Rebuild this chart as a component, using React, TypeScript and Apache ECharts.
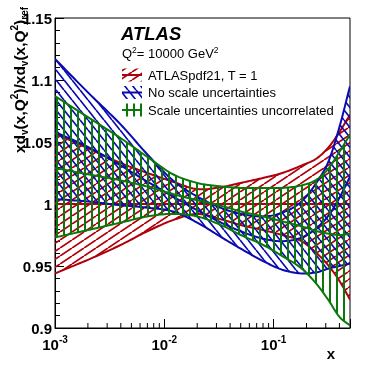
import React, { useEffect, useRef } from "react";
import * as echarts from "echarts";

// ---- data ----
const xValues = [0.001, 0.002, 0.004, 0.007, 0.012, 0.02, 0.035, 0.05, 0.08, 0.12, 0.18, 0.25, 0.32, 0.4, 0.5];

const redUpper = [1.057, 1.045, 1.033, 1.025, 1.018, 1.012, 1.014, 1.017, 1.021, 1.025, 1.031, 1.037, 1.046, 1.058, 1.072];
const redCentral = [1, 1, 1, 1, 1, 1, 1, 1, 1, 1, 1, 1, 1, 1, 1];
const redLower = [0.944, 0.955, 0.967, 0.978, 0.987, 0.992, 0.987, 0.983, 0.979, 0.975, 0.97, 0.96, 0.95, 0.938, 0.923];

const blueUpper = [1.117, 1.09, 1.064, 1.04, 1.019, 1.006, 0.996, 0.992, 0.99, 0.993, 1.002, 1.018, 1.035, 1.062, 1.095];
const blueCentral = [1.058, 1.046, 1.031, 1.018, 1.006, 0.995, 0.984, 0.978, 0.972, 0.97, 0.973, 0.981, 0.991, 1.005, 1.022];
const blueLower = [1.004, 1.002, 0.999, 0.997, 0.994, 0.985, 0.972, 0.964, 0.954, 0.947, 0.944, 0.945, 0.948, 0.95, 0.952];

const greenUpper = [1.087, 1.07, 1.053, 1.038, 1.024, 1.017, 1.014, 1.013, 1.013, 1.013, 1.015, 1.02, 1.029, 1.042, 1.056];
const greenCentral = [1.029, 1.024, 1.019, 1.014, 1.008, 1.003, 0.998, 0.994, 0.99, 0.986, 0.982, 0.978, 0.976, 0.975, 0.976];
const greenLower = [0.973, 0.979, 0.985, 0.99, 0.992, 0.99, 0.982, 0.975, 0.967, 0.958, 0.948, 0.935, 0.922, 0.909, 0.902];

const xMinorTicks = [0.002, 0.003, 0.004, 0.005, 0.006, 0.007, 0.008, 0.009, 0.02, 0.03, 0.04, 0.05, 0.06, 0.07, 0.08, 0.09, 0.2, 0.3, 0.4];

const legendLabels = ["ATLASpdf21, T = 1", "No scale uncertainties", "Scale uncertainties uncorrelated"];

const RED = "#b0000c";
const BLUE = "#0a0ab0";
const GREEN = "#0b780b";
const FONT = "'Liberation Sans', Arial, Helvetica, sans-serif";

function hatch(color: string, w: number, h: number, dir: "up" | "down" | "vert", lw: number) {
  const c = document.createElement("canvas");
  c.width = w;
  c.height = h;
  const ctx = c.getContext("2d")!;
  if (dir === "vert") {
    ctx.fillStyle = color;
    ctx.fillRect(0, 0, lw, h);
  } else {
    ctx.strokeStyle = color;
    ctx.lineWidth = lw;
    ctx.beginPath();
    for (let k = -1; k <= 1; k++) {
      if (dir === "up") {
        ctx.moveTo(k * w, h);
        ctx.lineTo(k * w + w, 0);
      } else {
        ctx.moveTo(k * w, 0);
        ctx.lineTo(k * w + w, h);
      }
    }
    ctx.stroke();
  }
  return { image: c, repeat: "repeat", imageWidth: w, imageHeight: h } as any;
}

// cubic Hermite rendering of pixel points (x monotone) for a smooth curve
function smoothPts(P: number[][]): number[][] {
  const n = P.length;
  const m: number[] = [];
  for (let i = 0; i < n; i++) {
    if (i === 0) m.push((P[1][1] - P[0][1]) / (P[1][0] - P[0][0]));
    else if (i === n - 1) m.push((P[n - 1][1] - P[n - 2][1]) / (P[n - 1][0] - P[n - 2][0]));
    else {
      const s0 = (P[i][1] - P[i - 1][1]) / (P[i][0] - P[i - 1][0]);
      const s1 = (P[i + 1][1] - P[i][1]) / (P[i + 1][0] - P[i][0]);
      m.push((s0 + s1) / 2);
    }
  }
  const out: number[][] = [];
  const S = 12;
  for (let i = 0; i < n - 1; i++) {
    const h = P[i + 1][0] - P[i][0];
    for (let k = 0; k < S; k++) {
      const t = k / S;
      const t2 = t * t, t3 = t2 * t;
      const h00 = 2 * t3 - 3 * t2 + 1, h10 = t3 - 2 * t2 + t, h01 = -2 * t3 + 3 * t2, h11 = t3 - t2;
      out.push([P[i][0] + t * h, h00 * P[i][1] + h10 * h * m[i] + h01 * P[i + 1][1] + h11 * h * m[i + 1]]);
    }
  }
  out.push(P[n - 1]);
  return out;
}

export default function App() {
  const ref = useRef<HTMLDivElement>(null);
  useEffect(() => {
    if (!ref.current) return;
    const chart = echarts.init(ref.current, null, { renderer: "svg" });

    const redPat = hatch(RED, 12, 8, "up", 1.7);
    const bluePat = hatch(BLUE, 8, 10, "down", 1.7);
    const greenPat = hatch(GREEN, 7, 7, "vert", 2);

    const bandSeries = (lower: number[], central: number[], upper: number[], pat: any, color: string) => ({
      type: "custom",
      data: [[xValues[0], central[0]]],
      silent: true,
      clip: true,
      renderItem: (params: any, api: any) => {
        const curve = (vals: number[]) => smoothPts(xValues.map((x, i) => api.coord([x, vals[i]])));
        const up = curve(upper);
        const lo = curve(lower);
        const ce = curve(central);
        const lineStyle = { stroke: color, lineWidth: 2, fill: "none" };
        return {
          type: "group",
          children: [
            { type: "polygon", shape: { points: up.concat(lo.slice().reverse()) }, style: { fill: pat, stroke: "none" } },
            { type: "polyline", shape: { points: up }, style: lineStyle },
            { type: "polyline", shape: { points: ce }, style: lineStyle },
            { type: "polyline", shape: { points: lo }, style: lineStyle },
          ],
        };
      },
    });

    const rowY = [75, 92.5, 110];
    const pats = [redPat, bluePat, greenPat];
    const cols = [RED, BLUE, GREEN];
    const legendEls: any[] = [];
    rowY.forEach((y, i) => {
      legendEls.push({
        type: "rect",
        shape: { x: 122, y: y - 6.5, width: 20, height: 13 },
        style: { fill: pats[i], stroke: null },
      });
      legendEls.push({
        type: "line",
        shape: { x1: 122, y1: y, x2: 142, y2: y },
        style: { stroke: cols[i], lineWidth: 2 },
      });
      legendEls.push({
        type: "text",
        x: 148,
        y: y,
        style: { text: legendLabels[i], fontSize: 13, fontFamily: FONT, fill: "#000", align: "left", verticalAlign: "middle" },
      });
    });

    const option: any = {
      animation: false,
      grid: { left: 55, right: 18, top: 18, bottom: 37, show: true, borderColor: "#000", borderWidth: 1, backgroundColor: "transparent" },
      xAxis: {
        type: "log",
        logBase: 10,
        min: 0.001,
        max: 0.5,
        axisLine: { show: true, lineStyle: { color: "#000", width: 1 } },
        axisTick: { show: true, inside: true, length: 9, lineStyle: { color: "#000" } },
        splitLine: { show: false },
        axisLabel: {
          margin: 6,
          color: "#000",
          formatter: (v: number) => {
            const l = Math.log10(v);
            const r = Math.round(l);
            if (Math.abs(l - r) > 1e-6) return "";
            return "{b|10}{s|" + r + "}";
          },
          rich: {
            b: { fontSize: 15, fontWeight: "bold", fontFamily: FONT, color: "#000", lineHeight: 18, verticalAlign: "bottom" },
            s: { fontSize: 10, fontWeight: "bold", fontFamily: FONT, color: "#000", lineHeight: 11, verticalAlign: "top" },
          },
        },
      },
      yAxis: {
        type: "value",
        min: 0.9,
        max: 1.15,
        interval: 0.05,
        axisLine: { show: true, lineStyle: { color: "#000", width: 1 } },
        axisTick: { show: true, inside: true, length: 9, lineStyle: { color: "#000" } },
        minorTick: { show: true, splitNumber: 5, length: 5, lineStyle: { color: "#000" } },
        splitLine: { show: false },
        minorSplitLine: { show: false },
        axisLabel: {
          margin: 3,
          color: "#000",
          fontSize: 15,
          fontWeight: "bold",
          fontFamily: FONT,
          formatter: (v: number) => String(Number(v.toFixed(2))),
        },
      },
      series: [
        bandSeries(redLower, redCentral, redUpper, redPat, RED),
        bandSeries(blueLower, blueCentral, blueUpper, bluePat, BLUE),
        bandSeries(greenLower, greenCentral, greenUpper, greenPat, GREEN),
        {
          type: "custom",
          data: xMinorTicks.map((v) => [v, 0.9]),
          silent: true,
          clip: false,
          z: 10,
          renderItem: (params: any, api: any) => {
            const p = api.coord([api.value(0), api.value(1)]);
            return {
              type: "line",
              shape: { x1: p[0], y1: p[1], x2: p[0], y2: p[1] - 5 },
              style: { stroke: "#000", lineWidth: 1 },
            };
          },
        },
      ],
      graphic: {
        elements: [
          {
            type: "text",
            x: 19,
            y: 80,
            rotation: Math.PI / 2,
            style: {
              text: "{n|xd}{sb|v}{n|(x,Q}{sp|2}{n|)/xd}{sb|v}{n|(x,Q}{sp|2}{n|)}{sb|ref}",
              align: "center",
              verticalAlign: "middle",
              rich: {
                n: { fontSize: 15.5, fontWeight: "bold", fontFamily: FONT, fill: "#000", lineHeight: 20, verticalAlign: "middle" },
                sb: { fontSize: 10, fontWeight: "bold", fontFamily: FONT, fill: "#000", lineHeight: 11, verticalAlign: "bottom" },
                sp: { fontSize: 10, fontWeight: "bold", fontFamily: FONT, fill: "#000", lineHeight: 11, verticalAlign: "top" },
              },
            },
          },
          {
            type: "text",
            x: 335,
            y: 353,
            style: { text: "x", fontSize: 15, fontWeight: "bold", fontFamily: FONT, fill: "#000", align: "right", verticalAlign: "middle" },
          },
          {
            type: "text",
            x: 121,
            y: 33,
            style: { text: "ATLAS", fontSize: 18.5, fontWeight: "bold", fontStyle: "italic", fontFamily: FONT, fill: "#000", align: "left", verticalAlign: "middle" },
          },
          {
            type: "text",
            x: 122,
            y: 53,
            style: {
              text: "{a|Q}{s|2}{a|= 10000 GeV}{s|2}",
              align: "left",
              verticalAlign: "middle",
              rich: {
                a: { fontSize: 13, fontFamily: FONT, fill: "#000", lineHeight: 16, verticalAlign: "middle" },
                s: { fontSize: 8.5, fontFamily: FONT, fill: "#000", lineHeight: 10, verticalAlign: "top" },
              },
            },
          },
          ...legendEls,
        ],
      },
    };
    chart.setOption(option);
    return () => chart.dispose();
  }, []);
  return <div ref={ref} style={{ position: "fixed", left: 0, top: 0, width: 368, height: 365 }} />;
}
